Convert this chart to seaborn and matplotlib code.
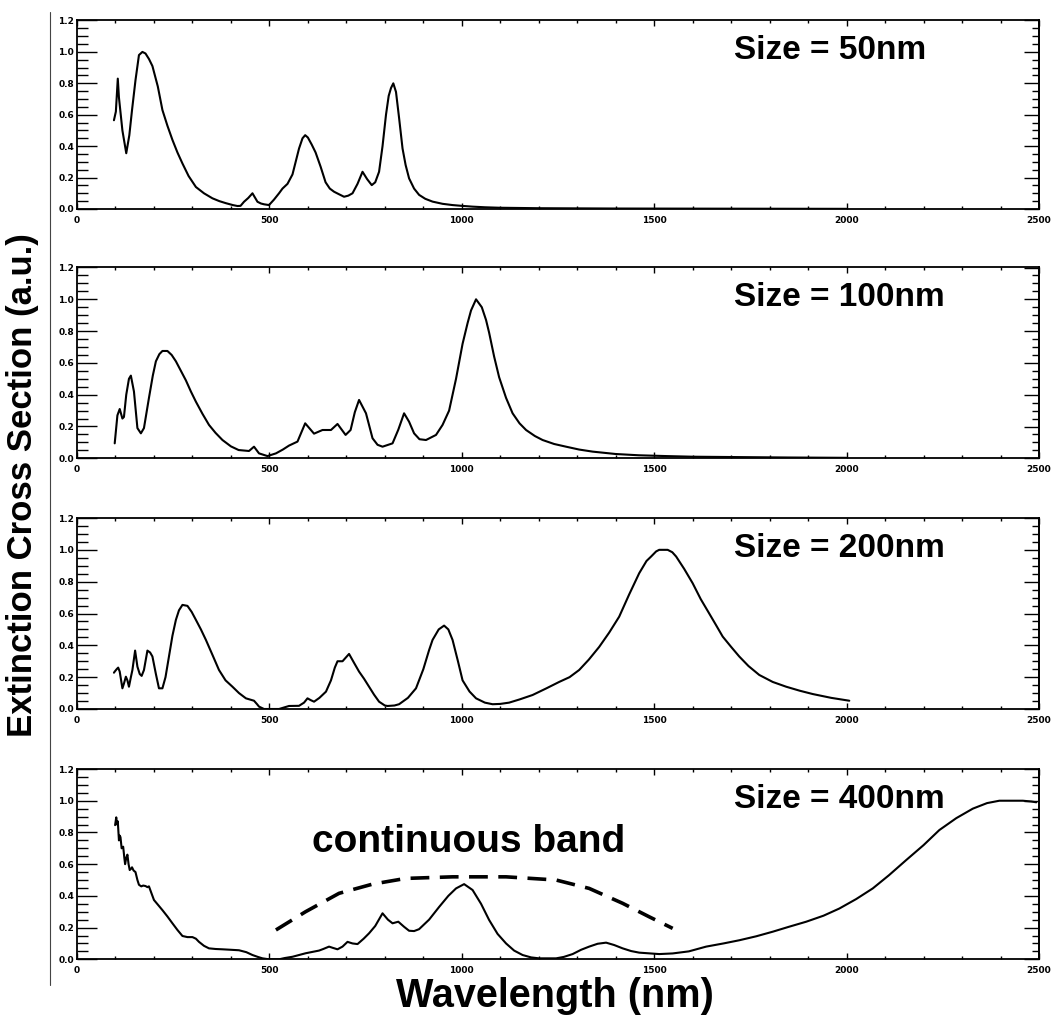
import numpy as np
import pandas as pd
import matplotlib
matplotlib.use("Agg")
import matplotlib.pyplot as plt
from matplotlib.ticker import MultipleLocator, FixedLocator, NullFormatter
from matplotlib.lines import Line2D
import seaborn as sns

# ---------------- data ----------------
x_50 = [96, 101, 106, 109, 118, 128, 136, 143, 152, 161, 170, 178, 187, 196, 210, 222, 235, 248, 261, 274,
        290, 309, 330, 352, 370, 387, 405, 417, 425, 434, 445, 456, 462, 469, 478, 486, 499, 512, 525, 534,
        547, 560, 577, 586, 593, 600, 610, 620, 633, 646, 657, 668, 680, 694, 705, 716, 729, 742, 754, 766,
        775, 785, 794, 803, 810, 816, 822, 829, 837, 846, 854, 863, 876, 889, 905, 924, 950, 976, 1000, 1028,
        1060, 1098, 1200, 1400, 1700, 2000]
y_50 = [0.565, 0.62, 0.83, 0.71, 0.50, 0.355, 0.47, 0.63, 0.82, 0.98, 1.0, 0.99, 0.955, 0.91, 0.78, 0.63, 0.53,
        0.44, 0.36, 0.29, 0.21, 0.14, 0.10, 0.068, 0.05, 0.037, 0.025, 0.019, 0.02, 0.046, 0.07, 0.10, 0.075,
        0.046, 0.035, 0.03, 0.025, 0.06, 0.10, 0.13, 0.16, 0.22, 0.385, 0.45, 0.47, 0.455, 0.41, 0.36, 0.27,
        0.17, 0.13, 0.11, 0.095, 0.078, 0.085, 0.10, 0.16, 0.237, 0.19, 0.152, 0.17, 0.237, 0.40, 0.60, 0.72,
        0.77, 0.80, 0.745, 0.58, 0.385, 0.28, 0.195, 0.13, 0.09, 0.065, 0.047, 0.033, 0.025, 0.02, 0.015,
        0.011, 0.008, 0.005, 0.003, 0.002, 0.001]

x_100 = [98, 105, 111, 118, 122, 128, 135, 140, 148, 157, 166, 174, 187, 197, 205, 214, 222, 235, 246, 257,
         270, 283, 296, 309, 326, 343, 360, 378, 400, 420, 447, 460, 473, 495, 517, 535, 551, 573, 593, 616,
         638, 660, 677, 698, 711, 722, 733, 751, 768, 781, 794, 820, 835, 850, 863, 876, 890, 907, 933, 950,
         967, 985, 1002, 1015, 1024, 1037, 1052, 1063, 1071, 1084, 1097, 1115, 1132, 1150, 1167, 1190, 1210,
         1240, 1271, 1305, 1340, 1400, 1460, 1531, 1600, 1700, 1850, 2000]
y_100 = [0.094, 0.27, 0.31, 0.25, 0.26, 0.40, 0.50, 0.52, 0.42, 0.19, 0.157, 0.19, 0.38, 0.52, 0.61, 0.655,
         0.675, 0.675, 0.65, 0.61, 0.55, 0.49, 0.42, 0.356, 0.28, 0.21, 0.16, 0.115, 0.075, 0.052, 0.046,
         0.073, 0.031, 0.014, 0.031, 0.055, 0.08, 0.105, 0.22, 0.155, 0.178, 0.178, 0.216, 0.147, 0.178,
         0.29, 0.367, 0.283, 0.126, 0.085, 0.073, 0.094, 0.18, 0.283, 0.23, 0.157, 0.12, 0.115, 0.147, 0.21,
         0.30, 0.50, 0.72, 0.85, 0.93, 1.0, 0.95, 0.87, 0.79, 0.64, 0.51, 0.38, 0.283, 0.22, 0.178, 0.14,
         0.115, 0.09, 0.073, 0.055, 0.042, 0.027, 0.019, 0.014, 0.01, 0.008, 0.005, 0.003]

x_200 = [96, 98, 103, 107, 111, 118, 122, 127, 131, 135, 140, 144, 151, 157, 163, 168, 174, 183, 190, 196,
         205, 213, 222, 230, 239, 248, 257, 265, 274, 287, 298, 309, 322, 335, 352, 369, 386, 404, 421, 439,
         460, 468, 473, 486, 500, 525, 551, 577, 590, 599, 608, 616, 630, 647, 660, 670, 677, 690, 707, 720,
         733, 746, 759, 772, 785, 800, 807, 825, 837, 860, 881, 900, 915, 924, 940, 954, 965, 976, 990, 1002,
         1020, 1037, 1060, 1080, 1100, 1123, 1150, 1184, 1220, 1253, 1280, 1305, 1330, 1357, 1383, 1409, 1435,
         1461, 1480, 1492, 1505, 1513, 1535, 1547, 1557, 1578, 1600, 1621, 1643, 1660, 1678, 1700, 1721, 1745,
         1773, 1808, 1843, 1878, 1912, 1960, 2007]
y_200 = [0.228, 0.235, 0.25, 0.26, 0.235, 0.13, 0.16, 0.203, 0.18, 0.14, 0.20, 0.245, 0.367, 0.266, 0.22,
         0.208, 0.245, 0.367, 0.355, 0.33, 0.22, 0.13, 0.13, 0.20, 0.33, 0.46, 0.56, 0.62, 0.654, 0.648, 0.61,
         0.56, 0.50, 0.434, 0.34, 0.245, 0.18, 0.14, 0.10, 0.067, 0.052, 0.03, 0.015, 0.0, 0.0, 0.0, 0.019,
         0.02, 0.04, 0.067, 0.055, 0.046, 0.07, 0.109, 0.18, 0.26, 0.30, 0.30, 0.346, 0.29, 0.235, 0.19, 0.14,
         0.09, 0.046, 0.022, 0.019, 0.022, 0.03, 0.07, 0.13, 0.25, 0.37, 0.434, 0.50, 0.524, 0.50, 0.434, 0.30,
         0.18, 0.11, 0.067, 0.04, 0.03, 0.032, 0.04, 0.06, 0.088, 0.13, 0.17, 0.20, 0.245, 0.31, 0.39, 0.48,
         0.58, 0.72, 0.853, 0.93, 0.958, 0.99, 1.0, 1.0, 0.985, 0.958, 0.88, 0.79, 0.69, 0.60, 0.53, 0.455,
         0.39, 0.33, 0.27, 0.214, 0.17, 0.14, 0.115, 0.094, 0.07, 0.052]

x_400 = [99, 102, 104, 106, 109, 111, 113, 116, 120, 123, 125, 128, 131, 134, 137, 140, 143, 147, 152, 157,
         161, 167, 172, 178, 183, 187, 193, 200, 210, 222, 235, 248, 261, 274, 287, 300, 309, 317, 330, 343,
         360, 378, 400, 421, 440, 456, 470, 482, 499, 525, 540, 560, 594, 629, 640, 655, 665, 677, 690, 703,
         716, 729, 745, 759, 775, 794, 808, 820, 835, 850, 863, 876, 889, 915, 941, 965, 985, 1006, 1028, 1050,
         1071, 1093, 1115, 1136, 1158, 1180, 1201, 1245, 1265, 1288, 1310, 1331, 1353, 1375, 1396, 1418, 1440,
         1461, 1513, 1548, 1590, 1635, 1680, 1721, 1765, 1808, 1850, 1895, 1940, 1981, 2025, 2068, 2110, 2155,
         2200, 2241, 2285, 2328, 2365, 2397, 2430, 2458, 2480, 2493]
y_400 = [0.846, 0.895, 0.85, 0.87, 0.75, 0.78, 0.77, 0.70, 0.71, 0.64, 0.60, 0.64, 0.66, 0.60, 0.563, 0.57,
         0.58, 0.56, 0.55, 0.50, 0.47, 0.46, 0.465, 0.462, 0.455, 0.46, 0.42, 0.374, 0.345, 0.31, 0.27, 0.227,
         0.185, 0.147, 0.14, 0.14, 0.13, 0.11, 0.085, 0.069, 0.065, 0.063, 0.06, 0.057, 0.045, 0.027, 0.015,
         0.006, 0.0, 0.0, 0.008, 0.016, 0.038, 0.055, 0.065, 0.08, 0.072, 0.063, 0.08, 0.11, 0.10, 0.096, 0.13,
         0.164, 0.21, 0.29, 0.25, 0.227, 0.237, 0.205, 0.18, 0.178, 0.19, 0.25, 0.33, 0.40, 0.447, 0.474,
         0.437, 0.35, 0.248, 0.16, 0.10, 0.055, 0.027, 0.012, 0.006, 0.006, 0.015, 0.033, 0.06, 0.08, 0.098,
         0.105, 0.09, 0.069, 0.052, 0.042, 0.033, 0.037, 0.05, 0.08, 0.10, 0.12, 0.145, 0.174, 0.205, 0.237,
         0.275, 0.32, 0.38, 0.447, 0.53, 0.626, 0.72, 0.815, 0.89, 0.95, 0.985, 1.0, 1.0, 1.0, 0.995, 0.99]

band_x = [517, 594, 681, 768, 854, 976, 1115, 1245, 1331, 1418, 1487, 1548]
band_y = [0.185, 0.30, 0.416, 0.474, 0.51, 0.52, 0.52, 0.50, 0.447, 0.353, 0.268, 0.195]

size_labels = ["Size = 50nm", "Size = 100nm", "Size = 200nm", "Size = 400nm"]
x_ticks = [0, 500, 1000, 1500, 2000, 2500]
x_tick_labels = ["0", "500", "1000", "1500", "2000", "2500"]
y_ticks = [0.0, 0.2, 0.4, 0.6, 0.8, 1.0, 1.2]
y_tick_labels = ["0.0", "0.2", "0.4", "0.6", "0.8", "1.0", "1.2"]

series = [(x_50, y_50), (x_100, y_100), (x_200, y_200), (x_400, y_400)]

# ---------------- styling ----------------
sns.set_style("ticks")
plt.rcParams['font.family'] = ['Liberation Sans', 'DejaVu Sans']
plt.rcParams['text.color'] = 'black'
plt.rcParams['xtick.color'] = 'black'
plt.rcParams['ytick.color'] = 'black'
plt.rcParams['xtick.labelcolor'] = 'black'
plt.rcParams['ytick.labelcolor'] = 'black'

W, H = 1055, 1021
fig = plt.figure(figsize=(W / 100, H / 100), dpi=100)

# panel rectangles in pixel (top, bottom)
rects_px = [(20.5, 209.0), (267.5, 458.3), (518.0, 709.0), (769.0, 959.3)]
left_px, right_px = 77.0, 1039.0

axes = []
for i, ((top, bot), (xs, ys)) in enumerate(zip(rects_px, series)):
    ax = fig.add_axes([left_px / W, 1 - bot / H, (right_px - left_px) / W, (bot - top) / H])
    df = pd.DataFrame({"wavelength": xs, "ext": ys})
    sns.lineplot(data=df, x="wavelength", y="ext", ax=ax, color="black",
                 linewidth=1.5, estimator=None, sort=False)
    ax.set_xlim(0, 2500)
    ax.set_ylim(0, 1.2)
    ax.set_xlabel("")
    ax.set_ylabel("")
    ax.xaxis.set_major_locator(FixedLocator(x_ticks))
    ax.set_xticklabels(x_tick_labels)
    ax.xaxis.set_minor_locator(MultipleLocator(100))
    ax.yaxis.set_major_locator(FixedLocator(y_ticks))
    ax.set_yticklabels(y_tick_labels)
    ax.yaxis.set_minor_locator(MultipleLocator(0.05))
    ax.tick_params(which="both", direction="in", top=True, right=False, width=1.0,
                   color="black", labelcolor="black")
    ax.tick_params(axis="y", which="major", length=14.5, pad=2)
    ax.tick_params(axis="y", which="minor", length=8)
    ax.tick_params(axis="x", which="major", length=4, pad=5)
    ax.tick_params(axis="x", which="minor", length=2.5)
    for lab in ax.get_xticklabels() + ax.get_yticklabels():
        lab.set_fontsize(6.5)
        lab.set_fontweight("bold")
        lab.set_family("DejaVu Sans")
        lab.set_color("black")
    for sp in ax.spines.values():
        sp.set_linewidth(1.3)
        sp.set_color("black")

    # right-hand axis carries shorter inward ticks, no labels
    sec = ax.secondary_yaxis("right")
    sec.yaxis.set_major_locator(FixedLocator(y_ticks))
    sec.yaxis.set_minor_locator(MultipleLocator(0.05))
    sec.yaxis.set_major_formatter(NullFormatter())
    sec.tick_params(which="both", direction="in", width=1.0, color="black")
    sec.tick_params(which="major", length=11)
    sec.tick_params(which="minor", length=5)
    sec.spines["right"].set_linewidth(1.3)
    sec.spines["right"].set_color("black")

    ax.text(1708, 0.955, size_labels[i], fontsize=24, fontweight="bold",
            ha="left", va="baseline", color="black")
    axes.append(ax)

# dashed "continuous band" guide in the last panel
ax4 = axes[3]
sns.lineplot(x=band_x, y=band_y, ax=ax4, color="black", linewidth=2.6,
             estimator=None, sort=False)
ax4.lines[-1].set_dashes([5.2, 2.9])
ax4.text(611, 0.676, "continuous band", fontsize=28, fontweight="bold",
         ha="left", va="baseline", color="black")

# figure-level labels and left rule
fig.text(23 / W, 1 - 485 / H, "Extinction Cross Section (a.u.)", rotation=90,
         ha="center", va="center", fontsize=25, fontweight="bold", color="black")
fig.text(555 / W, 1 - 996 / H, "Wavelength (nm)", ha="center", va="center",
         fontsize=28.5, fontweight="bold", color="black")
fig.add_artist(Line2D([50 / W, 50 / W], [1 - 12 / H, 1 - 985 / H], color="#444444",
                      linewidth=0.8, transform=fig.transFigure))

fig.savefig("out.png", dpi=100, facecolor="white")
